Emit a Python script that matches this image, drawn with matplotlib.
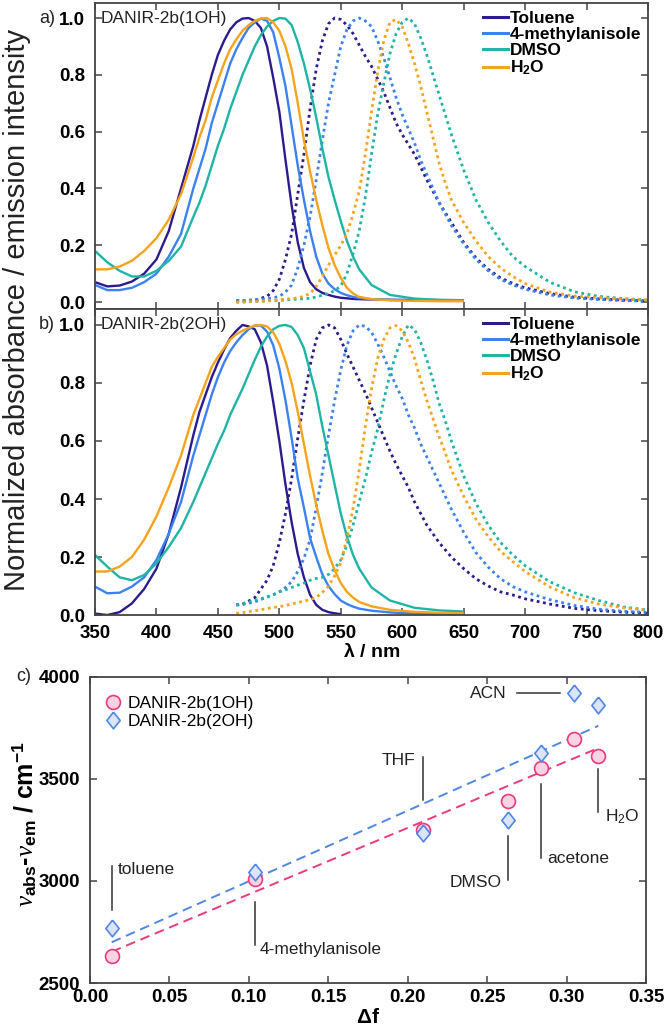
import numpy as np
import matplotlib
matplotlib.use('Agg')
import matplotlib.pyplot as plt
from matplotlib.lines import Line2D
from matplotlib.path import Path

plt.rcParams['font.family'] = ['Liberation Sans', 'DejaVu Sans']
plt.rcParams['mathtext.fontset'] = 'custom'
plt.rcParams['mathtext.rm'] = 'Liberation Sans'
plt.rcParams['mathtext.bf'] = 'Liberation Sans:bold'
plt.rcParams['mathtext.it'] = 'Liberation Serif:italic'

SOLVENTS = ['Toluene', '4-methylanisole', 'DMSO', r'H$_\mathbf{2}$O']
COLORS = ['#2c1b8f', '#3b82f0', '#1eb4a6', '#f6a31c']

# absorbance wavelength grid (nm)
ABS_WL = [350, 360, 370, 380, 390, 400, 410, 420, 430,
          435, 440, 445, 450, 455, 460, 465, 470, 475, 480, 485, 490, 495, 500,
          505, 510, 515, 520, 525, 530, 535, 540, 545, 550, 555, 560, 565,
          575, 590, 610, 630, 650]

# emission wavelength grid (nm)
EM_WL = [465, 470, 480, 490,
         495, 500, 505, 510, 515, 520, 525, 530, 535, 540, 545, 550, 555, 560,
         565, 570, 575, 580, 585, 590, 595, 600, 605, 610, 615, 620, 625, 630,
         635, 640,
         650, 660, 670, 680, 690, 700, 720, 740, 760, 780, 800]

# a) DANIR-2b(1OH)
ABS_1OH_TOL = [0.07, 0.055, 0.058, 0.072, 0.10, 0.15, 0.25, 0.40, 0.55,
               0.64, 0.72, 0.80, 0.87, 0.92, 0.96, 0.985, 0.998, 1.0, 0.99, 0.965, 0.90, 0.79, 0.67,
               0.50, 0.34, 0.21, 0.12, 0.07, 0.045, 0.032, 0.025, 0.019, 0.015, 0.013, 0.011, 0.01,
               0.009, 0.008, 0.007, 0.006, 0.006]
ABS_1OH_MA = [0.06, 0.042, 0.042, 0.05, 0.07, 0.10, 0.16, 0.24, 0.40,
              0.47, 0.54, 0.63, 0.70, 0.77, 0.84, 0.89, 0.93, 0.965, 0.985, 0.998, 0.99, 0.95, 0.86,
              0.76, 0.62, 0.48, 0.36, 0.25, 0.16, 0.10, 0.065, 0.045, 0.032, 0.024, 0.018, 0.014,
              0.01, 0.007, 0.005, 0.004, 0.004]
ABS_1OH_DMSO = [0.18, 0.14, 0.11, 0.09, 0.09, 0.11, 0.145, 0.195, 0.30,
                0.35, 0.41, 0.48, 0.55, 0.61, 0.68, 0.74, 0.80, 0.85, 0.90, 0.94, 0.97, 0.99, 1.0,
                0.998, 0.975, 0.915, 0.84, 0.75, 0.65, 0.54, 0.44, 0.36, 0.285, 0.215, 0.16, 0.115,
                0.06, 0.025, 0.012, 0.008, 0.006]
ABS_1OH_H2O = [0.115, 0.115, 0.125, 0.145, 0.18, 0.225, 0.29, 0.38, 0.51,
               0.58, 0.64, 0.72, 0.78, 0.84, 0.89, 0.925, 0.955, 0.975, 0.99, 0.998, 1.0, 0.985, 0.955,
               0.90, 0.82, 0.70, 0.57, 0.46, 0.36, 0.27, 0.19, 0.13, 0.085, 0.05, 0.03, 0.018,
               0.01, 0.006, 0.004, 0.003, 0.003]

EM_1OH_TOL = [0.005, 0.004, 0.006, 0.02,
              0.04, 0.08, 0.15, 0.24, 0.38, 0.52, 0.68, 0.82, 0.92, 0.98, 1.0, 0.995, 0.975, 0.945,
              0.905, 0.865, 0.83, 0.785, 0.74, 0.685, 0.63, 0.59, 0.555, 0.52, 0.475, 0.43, 0.39, 0.35,
              0.315, 0.28,
              0.21, 0.155, 0.115, 0.085, 0.065, 0.05, 0.03, 0.017, 0.011, 0.007, 0.004]
EM_1OH_MA = [0.005, 0.005, 0.008, 0.012,
             0.015, 0.02, 0.035, 0.06, 0.12, 0.20, 0.30, 0.43, 0.57, 0.70, 0.80, 0.90, 0.96, 0.99,
             1.0, 0.99, 0.97, 0.92, 0.86, 0.79, 0.72, 0.66, 0.61, 0.56, 0.50, 0.45, 0.40, 0.35,
             0.31, 0.27,
             0.205, 0.15, 0.11, 0.08, 0.06, 0.045, 0.025, 0.014, 0.009, 0.005, 0.003]
EM_1OH_DMSO = [0.0, 0.0, 0.002, 0.004,
               0.005, 0.006, 0.007, 0.009, 0.01, 0.012, 0.013, 0.018, 0.024, 0.03, 0.04, 0.056, 0.10, 0.17,
               0.25, 0.37, 0.52, 0.66, 0.77, 0.875, 0.945, 0.985, 1.0, 0.98, 0.93, 0.87, 0.80, 0.73,
               0.66, 0.59,
               0.465, 0.36, 0.28, 0.215, 0.16, 0.125, 0.07, 0.036, 0.02, 0.012, 0.007]
EM_1OH_H2O = [0.0, 0.0, 0.002, 0.004,
              0.006, 0.008, 0.01, 0.012, 0.015, 0.02, 0.03, 0.055, 0.09, 0.13, 0.165, 0.20, 0.24, 0.31,
              0.39, 0.52, 0.67, 0.81, 0.92, 0.985, 0.995, 0.97, 0.91, 0.84, 0.76, 0.67, 0.58, 0.49,
              0.42, 0.36,
              0.28, 0.215, 0.16, 0.12, 0.09, 0.065, 0.035, 0.021, 0.016, 0.01, 0.007]

# b) DANIR-2b(2OH)
ABS_2OH_TOL = [0.005, 0.0, 0.01, 0.04, 0.09, 0.16, 0.28, 0.44, 0.62,
               0.70, 0.76, 0.82, 0.87, 0.915, 0.955, 0.98, 1.0, 0.995, 0.985, 0.94, 0.86, 0.735, 0.60,
               0.45, 0.32, 0.21, 0.13, 0.07, 0.035, 0.018, 0.01, 0.006, 0.003, np.nan, np.nan, np.nan,
               np.nan, np.nan, np.nan, np.nan, np.nan]
ABS_2OH_MA = [0.098, 0.075, 0.077, 0.098, 0.13, 0.19, 0.28, 0.39, 0.55,
              0.62, 0.69, 0.76, 0.82, 0.87, 0.91, 0.94, 0.965, 0.985, 0.998, 0.998, 0.977, 0.93, 0.85,
              0.74, 0.61, 0.47, 0.37, 0.265, 0.20, 0.14, 0.10, 0.072, 0.05, 0.038, 0.029, 0.022,
              0.015, 0.009, 0.005, 0.004, 0.003]
ABS_2OH_DMSO = [0.207, 0.167, 0.13, 0.12, 0.138, 0.178, 0.235, 0.30, 0.39,
                0.44, 0.49, 0.54, 0.59, 0.635, 0.69, 0.735, 0.78, 0.83, 0.88, 0.925, 0.96, 0.985, 0.997,
                1.0, 0.993, 0.965, 0.92, 0.84, 0.76, 0.65, 0.55, 0.45, 0.35, 0.27, 0.207, 0.16,
                0.095, 0.05, 0.025, 0.016, 0.012]
ABS_2OH_H2O = [0.15, 0.15, 0.167, 0.20, 0.26, 0.34, 0.44, 0.55, 0.69,
               0.745, 0.80, 0.855, 0.89, 0.92, 0.95, 0.968, 0.98, 0.99, 0.998, 1.0, 0.995, 0.975, 0.935,
               0.875, 0.80, 0.70, 0.59, 0.48, 0.38, 0.29, 0.21, 0.155, 0.11, 0.08, 0.06, 0.045,
               0.03, 0.018, 0.011, 0.008, 0.006]

EM_2OH_TOL = [0.035, 0.036, 0.06, 0.12,
              0.17, 0.25, 0.35, 0.47, 0.61, 0.74, 0.86, 0.95, 0.99, 1.0, 0.99, 0.95, 0.90, 0.855,
              0.81, 0.765, 0.715, 0.665, 0.615, 0.565, 0.52, 0.48, 0.44, 0.39, 0.35, 0.31, 0.28, 0.25,
              0.225, 0.20,
              0.16, 0.125, 0.10, 0.08, 0.069, 0.056, 0.038, 0.023, 0.015, 0.01, 0.006]
EM_2OH_MA = [0.035, 0.037, 0.045, 0.062,
             0.07, 0.08, 0.095, 0.115, 0.15, 0.195, 0.26, 0.37, 0.49, 0.62, 0.74, 0.845, 0.93, 0.98,
             1.0, 0.995, 0.975, 0.935, 0.89, 0.84, 0.79, 0.747, 0.69, 0.645, 0.59, 0.545, 0.50, 0.455,
             0.41, 0.365,
             0.285, 0.215, 0.165, 0.125, 0.098, 0.08, 0.053, 0.033, 0.02, 0.013, 0.009]
EM_2OH_DMSO = [0.035, 0.04, 0.05, 0.062,
               0.07, 0.08, 0.087, 0.095, 0.103, 0.11, 0.12, 0.126, 0.13, 0.14, 0.16, 0.19, 0.24, 0.31,
               0.39, 0.47, 0.56, 0.64, 0.74, 0.83, 0.90, 0.96, 1.0, 0.985, 0.94, 0.88, 0.81, 0.73,
               0.67, 0.60,
               0.48, 0.385, 0.31, 0.25, 0.207, 0.17, 0.115, 0.077, 0.05, 0.028, 0.017]
EM_2OH_H2O = [0.006, 0.008, 0.015, 0.022,
              0.026, 0.029, 0.033, 0.038, 0.043, 0.048, 0.053, 0.06, 0.078, 0.10, 0.135, 0.18, 0.264, 0.368,
              0.50, 0.65, 0.78, 0.885, 0.95, 0.99, 0.998, 0.98, 0.94, 0.885, 0.81, 0.74, 0.678, 0.615,
              0.56, 0.50,
              0.41, 0.33, 0.27, 0.22, 0.184, 0.15, 0.097, 0.06, 0.038, 0.025, 0.017]

# c) Lippert-Mataga
LM_SOLVENTS = ['toluene', '4-methylanisole', 'THF', 'DMSO', 'acetone', 'ACN', 'H$_2$O']
DELTA_F = [0.0137, 0.1038, 0.2098, 0.263, 0.284, 0.3048, 0.320]
SHIFT_1OH = [2632, 3009, 3248, 3392, 3556, 3695, 3613]
SHIFT_2OH = [2769, 3043, 3235, 3299, 3626, 3922, 3863]

PINK_EDGE, PINK_FILL = '#ea3a7e', '#f9d3e2'
BLUE_EDGE, BLUE_FILL = '#4f86e6', '#dbe5f6'
SPINE = '#444444'
TICKFONT = {'fontsize': 13.5, 'fontweight': 'bold'}

fig = plt.figure(figsize=(6.64, 10.29), dpi=100)
ax_a = fig.add_axes([0.1431, 0.6997, 0.8328, 0.2974])
ax_b = fig.add_axes([0.1431, 0.4023, 0.8328, 0.2974])
ax_c = fig.add_axes([0.1355, 0.0447, 0.8373, 0.2974])


def style_axes(ax, xt, xl, yt, yl):
    for s in ax.spines.values():
        s.set_color(SPINE)
        s.set_linewidth(1.3)
    ax.set_xticks(xt)
    ax.set_xticklabels(xl, **TICKFONT)
    ax.set_yticks(yt)
    ax.set_yticklabels(yl, **TICKFONT)
    ax.tick_params(which='both', direction='in', top=True, right=True,
                   length=5, width=1.1, color=SPINE, pad=7)


panels = [
    (ax_a, 'DANIR-2b(1OH)', 'a)', (-0.0246, 1.053),
     [ABS_1OH_TOL, ABS_1OH_MA, ABS_1OH_DMSO, ABS_1OH_H2O],
     [EM_1OH_TOL, EM_1OH_MA, EM_1OH_DMSO, EM_1OH_H2O]),
    (ax_b, 'DANIR-2b(2OH)', 'b)', (0.0, 1.055),
     [ABS_2OH_TOL, ABS_2OH_MA, ABS_2OH_DMSO, ABS_2OH_H2O],
     [EM_2OH_TOL, EM_2OH_MA, EM_2OH_DMSO, EM_2OH_H2O]),
]

wl_ticks = np.arange(350, 801, 50)
y_ticks = np.arange(0, 1.01, 0.2)
for ax, name, tag, ylim, absorb, emit in panels:
    for i in range(4):
        ax.plot(ABS_WL, absorb[i], color=COLORS[i], lw=1.7, solid_capstyle='butt')
        ax.plot(EM_WL, emit[i], color=COLORS[i], lw=2.0, ls=(0, (1, 1.3)))
    ax.set_xlim(350, 800)
    ax.set_ylim(*ylim)
    style_axes(ax, wl_ticks, [str(v) for v in wl_ticks],
               y_ticks, [f'{v:.1f}' for v in y_ticks])
    ax.text(0.01, 1.0, name, transform=ax.get_yaxis_transform(), fontsize=12.5,
            va='center', ha='left', color='#222222')
    ax.text(-0.072, 1.0, tag, transform=ax.get_yaxis_transform(), fontsize=13,
            va='center', ha='right', color='#222222')
    handles = [Line2D([], [], color=c, lw=2.2) for c in COLORS]
    ax.legend(handles, SOLVENTS, loc='upper left', bbox_to_anchor=(0.702, 0.975),
              frameon=False, borderpad=0, borderaxespad=0, handlelength=1.45,
              handletextpad=0.1, labelspacing=0.05,
              prop={'weight': 'bold', 'size': 12.5})

ax_a.tick_params(labelbottom=False)
ax_b.set_xlabel(r'$\mathbf{\lambda}$ / nm', fontsize=14, fontweight='bold', labelpad=1)
fig.text(0.026, 1 - 310 / 1029, 'Normalized absorbance / emission intensity',
         rotation=90, ha='center', va='center', fontsize=21, color='#222222')

# c) Stokes shift vs orientation polarizability
df = np.array(DELTA_F)
for ys, edge, fill, mk, ms, lab in [
        (SHIFT_1OH, PINK_EDGE, PINK_FILL, 'o', 10, 'DANIR-2b(1OH)'),
        (SHIFT_2OH, BLUE_EDGE, BLUE_FILL, Path([(0, 1), (0.8, 0), (0, -1), (-0.8, 0), (0, 1)]), 12,
         'DANIR-2b(2OH)')]:
    k, b = np.polyfit(df, ys, 1)
    xf = np.array([df.min(), df.max()])
    ax_c.plot(xf, k * xf + b, ls=(0, (5, 3)), color=edge, lw=1.4, zorder=2)
    ax_c.plot(df, ys, ls='none', marker=mk, ms=ms, mfc=fill, mec=edge, mew=1.2,
              label=lab, zorder=3)

# leader lines for solvent labels: (kind, line start, line end, text dx, text y, ha)
LABEL_LAYOUT = {
    'toluene': ('v', 2860, 3075, 0.004, 3054, 'left'),
    '4-methylanisole': ('v', 2686, 2898, 0.003, 2662, 'left'),
    'THF': ('v', 3397, 3609, -0.005, 3593, 'right'),
    'DMSO': ('v', 3005, 3221, -0.004, 2992, 'right'),
    'acetone': ('v', 3112, 3476, 0.004, 3112, 'left'),
    'H$_2$O': ('v', 3340, 3548, 0.004, 3315, 'left'),
    'ACN': ('h', -0.036, -0.0086, -0.0426, 3920, 'right'),
}
for name, x in zip(LM_SOLVENTS, DELTA_F):
    kind, s, e, dx, ty, ha = LABEL_LAYOUT[name]
    if kind == 'v':
        ax_c.plot([x, x], [s, e], color='#333333', lw=1.1)
    else:
        ax_c.plot([x + s, x + e], [ty, ty], color='#333333', lw=1.1)
    ax_c.text(x + dx, ty, name, ha=ha, va='center', fontsize=12.5, color='#222222')

ax_c.set_xlim(0, 0.35)
ax_c.set_ylim(2500, 4000)
c_xt = np.arange(0, 0.351, 0.05)
c_yt = [2500, 3000, 3500, 4000]
style_axes(ax_c, c_xt, [f'{v:.2f}' for v in c_xt], c_yt, [str(v) for v in c_yt])
ax_c.tick_params(axis='x', pad=4)
ax_c.set_xlabel(r'$\mathbf{\Delta}$f', fontsize=15, fontweight='bold', labelpad=2)
ax_c.set_ylabel(r'$\nu_{\mathbf{abs}}$-$\nu_{\mathbf{em}}$ / cm$^{\mathbf{-1}}$',
                fontsize=18, fontweight='bold')
ax_c.yaxis.set_label_coords(-0.092, 0.52)
ax_c.legend(loc='upper left', bbox_to_anchor=(0.0, 0.985), frameon=False, numpoints=1,
            handlelength=1.0, handletextpad=0.35, labelspacing=0.2, borderpad=0.3,
            prop={'size': 12.5})
ax_c.text(-0.105, 4000, 'c)', transform=ax_c.get_yaxis_transform(), fontsize=13,
          va='center', ha='right', color='#222222')

fig.savefig('out.png', dpi=100)
